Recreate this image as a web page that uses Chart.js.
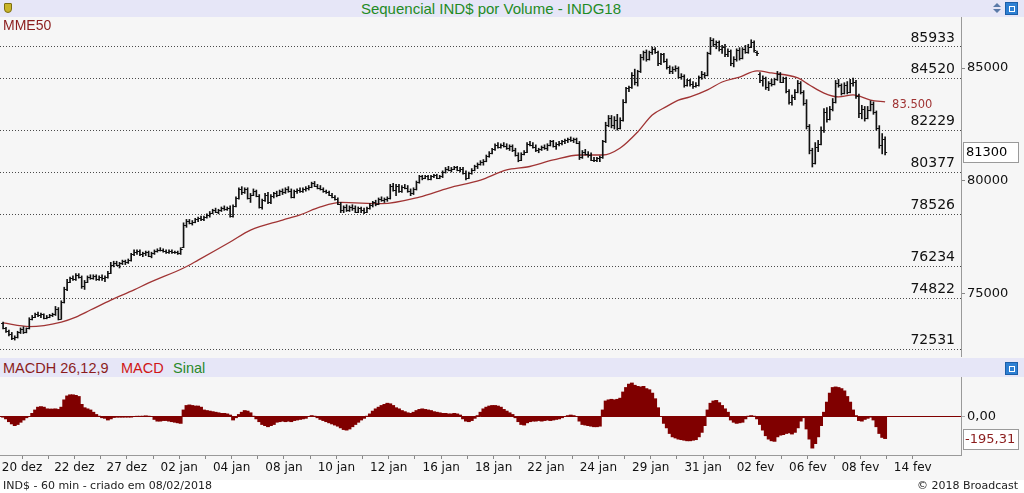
<!DOCTYPE html>
<html>
<head>
<meta charset="utf-8">
<script src="https://cdn.jsdelivr.net/npm/chart.js@4.4.1/dist/chart.umd.min.js"></script>
<style>
  body { margin:0; width:1024px; height:493px; overflow:hidden; background:#fff; position:relative; font-family:"Liberation Sans", Arial, sans-serif; }
  .band { position:absolute; left:0; width:1024px; background:#e6e6f7; }
  .panel { position:absolute; left:0; background:#f6f6f6; }
  #title { position:absolute; top:0; left:0; width:982px; text-align:center; font-size:15px; line-height:17px; color:#1f8b24; }
  .lbl { position:absolute; white-space:nowrap; }
  .foot { position:absolute; top:479px; font-family:"DejaVu Sans", sans-serif; font-size:11px; line-height:14px; color:#222; }
  .ico { position:absolute; width:11px; height:11px; background:#2d7fd3; border:1px solid #1b5ea8; }
  .ico::after { content:""; position:absolute; left:3px; top:3px; width:4px; height:4px; border:1px solid #fff; }
</style>
</head>
<body>
<div class="band" style="top:0;height:17px"></div>
<div id="title">Sequencial IND$ por Volume - INDG18</div>
<div style="position:absolute;left:4px;top:3px;width:6px;height:8px;background:#c9b52a;border:1px solid #7d6f12;border-radius:1px 1px 4px 4px"></div>
<div style="position:absolute;left:993px;top:3px;width:0;height:0;border-left:4px solid transparent;border-right:4px solid transparent;border-bottom:4px solid #5a7aa8"></div>
<div style="position:absolute;left:993px;top:9px;width:0;height:0;border-left:4px solid transparent;border-right:4px solid transparent;border-top:4px solid #5a7aa8"></div>
<div class="ico" style="left:1005px;top:2px"></div>

<div class="panel" style="top:17px;width:1024px;height:341px"></div>
<canvas id="price" width="1024" height="340" style="position:absolute;left:0;top:17px"></canvas>
<div class="lbl" style="left:3px;top:17px;font-size:14px;color:#8b1c1c">MME50</div>

<div class="band" style="top:358px;height:19px"></div>
<div class="lbl" style="left:3px;top:359px;font-size:14.5px;line-height:18px;color:#8b1c1c">MACDH 26,12,9</div>
<div class="lbl" style="left:121px;top:359px;font-size:14.5px;line-height:18px;color:#d01515">MACD</div>
<div class="lbl" style="left:173px;top:359px;font-size:14.5px;line-height:18px;color:#2a8a2a">Sinal</div>
<div class="ico" style="left:1005px;top:362px"></div>

<div class="panel" style="top:377px;width:1024px;height:103px"></div>
<canvas id="macd" width="1024" height="103" style="position:absolute;left:0;top:377px"></canvas>

<div class="foot" style="left:3px">IND$ - 60 min - criado em 08/02/2018</div>
<div class="foot" style="right:6px">© 2018 Broadcast</div>

<script>
// 60 min bars: last 7 bars of 19 dez, then 9 bars per trading day
const opens = [
  73700,73500,73350,73250,73050,73100,73300,
  73450,73300,73480,73900,74000,74100,74050,74100,73950,
  74000,74050,74100,74350,73900,74650,75200,75550,75700,
  75650,75850,75750,75350,75550,75750,75700,75800,75650,
  75750,75700,75750,75950,76300,76350,76300,76350,76450,
  76400,76500,76750,76850,76900,76750,76800,76850,76700,
  76800,76900,76950,76950,76900,76850,76900,76850,76850,
  76800,77100,78050,78250,78150,78200,78300,78350,78300,
  78400,78500,78600,78700,78650,78700,78800,78750,78800,
  78450,78900,79250,79650,79500,79650,79250,79400,79550,
  79350,78850,79150,79400,79050,79350,79450,79400,79550,
  79500,79650,79550,79300,79550,79600,79550,79650,79700,
  79750,79900,79800,79700,79650,79550,79500,79400,79300,
  79200,79000,78700,78850,78700,78850,78800,78650,78800,
  78700,78650,78800,78950,79050,79000,79200,79150,79200,
  79250,79800,79600,79800,79550,79750,79700,79550,79450,
  79650,79950,80200,80150,80200,80100,80200,80250,80150,
  80200,80400,80550,80500,80550,80600,80500,80550,80350,
  80150,80350,80500,80650,80750,80850,80900,81100,81250,
  81400,81600,81500,81600,81550,81450,81550,81350,81150,
  80950,81200,81300,81650,81600,81500,81350,81400,81500,
  81450,81600,81750,81550,81650,81700,81750,81800,81850,
  81800,81850,81700,81050,81300,81200,81150,80950,80950,
  81000,81050,81750,82500,82800,82500,82700,82350,82700,
  83500,84100,84150,84700,84400,84850,85500,85700,85400,
  85700,85850,85700,85200,85600,85300,85050,84850,84950,
  85000,84600,84650,84250,84450,84300,84200,84250,84600,
  84750,84700,85650,86250,86050,86150,85850,85950,85600,
  85750,85200,85400,85800,85450,85850,85700,85950,86150,
  85700,84750,84450,84550,84150,84350,84300,84500,84750,
  84400,84550,84000,83500,83700,83950,84350,83950,83450,
  82450,81350,80800,81500,81650,82250,83050,82750,83200,
  83500,84350,84250,83900,84250,83950,84350,84400,83750,
  83000,83200,82800,83150,83400,83050,82350,81600,81850
];
const highs = [
  73760,73520,73400,73300,73150,73350,73500,
  73550,73500,73950,74050,74150,74200,74150,74120,74050,
  74100,74150,74450,74400,74700,75300,75650,75750,75800,
  75900,75900,75800,75600,75800,75850,75850,75850,75800,
  75850,75800,76000,76400,76450,76450,76400,76500,76500,
  76550,76800,76950,76950,76950,76850,76900,76900,76850,
  76950,77000,77050,77000,76950,76950,76950,76900,76900,
  77050,78150,78300,78300,78250,78350,78400,78450,78450,
  78550,78650,78750,78800,78750,78850,78900,78850,78900,
  78950,79300,79700,79750,79700,79700,79450,79650,79600,
  79400,79200,79450,79500,79400,79500,79550,79600,79650,
  79700,79750,79650,79600,79650,79700,79700,79750,79800,
  79950,79980,79850,79800,79700,79600,79550,79450,79350,
  79250,79050,78900,78950,78900,78950,78900,78850,78850,
  78800,78850,79000,79100,79150,79250,79300,79250,79300,
  79850,79900,79850,79850,79800,79850,79800,79650,79700,
  80000,80250,80250,80250,80250,80250,80300,80300,80250,
  80450,80600,80650,80600,80650,80650,80600,80600,80450,
  80400,80550,80700,80800,80900,80950,81150,81300,81450,
  81650,81700,81650,81700,81650,81600,81600,81450,81250,
  81250,81350,81700,81750,81700,81600,81450,81550,81600,
  81650,81800,81800,81700,81750,81800,81850,81900,81950,
  81900,81900,81750,81350,81400,81300,81250,81050,81050,
  81100,81800,82600,82900,82900,82850,82950,82800,83600,
  84150,84200,84800,84950,84900,85600,85750,85800,85750,
  85930,85900,85750,85650,85650,85400,85100,85050,85100,
  85050,84750,84700,84500,84500,84400,84350,84650,84850,
  84800,85700,86350,86300,86200,86200,86000,86050,85850,
  85800,85500,85850,85900,85900,86000,86050,86250,86200,
  85750,84800,84650,84600,84400,84500,84550,84850,84800,
  84600,84600,84050,83800,84050,84450,84400,84000,83600,
  82500,81450,81700,81800,82400,83200,83250,83300,83650,
  84450,84500,84300,84350,84400,84500,84550,84450,83850,
  83350,83300,83300,83550,83500,83100,82450,82100,81950
];
const lows = [
  73450,73300,73150,72980,72960,73050,73250,
  73250,73280,73450,73850,73950,74000,73950,73900,73900,
  73950,74000,74050,73850,73880,74600,75150,75500,75600,
  75600,75700,75250,75200,75500,75650,75650,75600,75600,
  75600,75550,75700,75900,76200,76250,76150,76300,76300,
  76350,76450,76700,76750,76700,76650,76700,76650,76600,
  76750,76850,76900,76850,76800,76800,76800,76800,76750,
  76750,77050,77950,78100,78050,78150,78200,78250,78250,
  78350,78400,78550,78600,78550,78650,78700,78700,78400,
  78400,78850,79200,79400,79450,79200,79050,79350,79300,
  78800,78750,79100,79000,79000,79250,79300,79350,79400,
  79450,79500,79250,79250,79450,79500,79500,79550,79600,
  79700,79750,79650,79600,79500,79450,79350,79250,79150,
  78950,78600,78600,78650,78650,78700,78600,78600,78600,
  78550,78600,78750,78850,78900,78950,79100,79050,79100,
  79200,79550,79350,79500,79500,79650,79500,79350,79400,
  79600,79900,80050,80100,80050,80050,80150,80100,80100,
  80150,80350,80450,80400,80500,80450,80400,80300,80050,
  80100,80300,80450,80550,80700,80700,80850,81050,81200,
  81350,81450,81450,81500,81400,81350,81300,81100,80850,
  80900,81150,81250,81550,81450,81300,81250,81350,81400,
  81350,81550,81500,81400,81550,81600,81650,81700,81750,
  81700,81650,80950,81000,81150,81050,80900,80850,80850,
  80850,81000,81700,82400,82350,82300,82250,82300,82650,
  83450,83950,84100,84250,84200,84800,85350,85300,85350,
  85600,85650,85100,85150,85250,84950,84750,84750,84850,
  84550,84500,84150,84200,84200,84100,84150,84200,84500,
  84550,84650,85600,85950,85850,85750,85650,85500,85500,
  85100,85050,85300,85350,85400,85650,85650,85900,85700,
  85550,84350,84200,84050,84000,84200,84250,84450,84350,
  84350,83900,83400,83350,83600,83900,83850,83350,82300,
  81200,80620,80750,81300,81600,82150,82600,82700,83100,
  83450,84150,83800,83850,83850,83900,84200,83650,82800,
  82750,82650,82750,83100,82950,82250,81450,81200,81150
];
const closes = [
  73500,73350,73250,73050,73100,73300,73450,
  73300,73480,73900,74000,74100,74050,74100,73950,74000,
  74050,74100,74350,73900,74650,75200,75550,75700,75650,
  75850,75750,75350,75550,75750,75700,75800,75650,75750,
  75700,75750,75950,76300,76350,76300,76350,76450,76400,
  76500,76750,76850,76900,76750,76800,76850,76700,76800,
  76900,76950,76950,76900,76850,76900,76850,76850,76800,
  77000,78050,78250,78150,78200,78300,78350,78300,78400,
  78500,78600,78700,78650,78700,78800,78750,78800,78450,
  78900,79250,79650,79500,79650,79250,79400,79550,79350,
  78850,79150,79400,79050,79350,79450,79400,79550,79500,
  79650,79550,79300,79550,79600,79550,79650,79700,79750,
  79900,79800,79700,79650,79550,79500,79400,79300,79200,
  79000,78700,78850,78700,78850,78800,78650,78800,78700,
  78650,78800,78950,79050,79000,79200,79150,79200,79250,
  79800,79600,79800,79550,79750,79700,79550,79450,79650,
  79950,80200,80150,80200,80100,80200,80250,80150,80200,
  80400,80550,80500,80550,80600,80500,80550,80350,80150,
  80350,80500,80650,80750,80850,80900,81100,81250,81400,
  81600,81500,81600,81550,81450,81550,81350,81150,80950,
  81200,81300,81650,81600,81500,81350,81400,81500,81450,
  81600,81750,81550,81650,81700,81750,81800,81850,81800,
  81850,81700,81050,81300,81200,81150,80950,80950,81000,
  81050,81750,82500,82800,82500,82700,82350,82700,83500,
  84100,84150,84700,84400,84850,85500,85700,85400,85700,
  85850,85700,85200,85600,85300,85050,84850,84950,85000,
  84600,84650,84250,84450,84300,84200,84250,84600,84750,
  84700,85650,86250,86050,86150,85850,85950,85600,85750,
  85200,85400,85800,85450,85850,85700,85950,86150,85800,
  85650,84450,84550,84150,84350,84300,84500,84750,84400,
  84550,84000,83500,83700,83950,84350,83950,83450,82450,
  81350,80800,81500,81650,82250,83050,82750,83200,83500,
  84350,84250,83900,84250,83950,84350,84400,83750,83000,
  83200,82800,83150,83400,83050,82350,81600,81850,81300
];

// MME50 read at these bar positions
const mmeIdx = [0, 9, 20, 25, 30, 37, 45, 50, 62, 67, 78, 85, 96, 102, 109, 116, 130, 143, 153, 164, 173, 180,
  189, 198, 206, 212, 218, 223, 228, 232, 236, 242, 247, 253, 259, 264, 273, 277, 282, 287, 292, 298, 303];
const mmeVal = [73720, 73560, 73760, 73980, 74290, 74730, 75180, 75490, 76150, 76500, 77300, 77830, 78270, 78500,
  78850, 79050, 79000, 79290, 79690, 80040, 80490, 80620, 80930, 81150, 81150, 81460, 82170, 82920, 83300, 83580,
  83720, 84030, 84380, 84600, 84870, 84780, 84560, 84250, 83890, 83720, 83810, 83580, 83500];

// MACD histogram, one value per bar
const macdh = [
  -5,-20,-45,-65,-80,-70,-50,-30,-10,0,
  30,60,85,90,85,70,68,68,70,65,
  85,150,185,195,195,190,180,110,80,70,
  60,40,20,5,-10,-15,-30,-20,-8,-5,
  -5,-5,-3,-3,-3,0,3,3,5,8,
  5,0,-25,-40,-40,-35,-35,-40,-45,-50,
  -55,-60,60,100,105,100,95,95,85,60,
  55,50,45,40,35,30,30,25,15,-30,
  -10,20,40,55,50,35,5,-20,-45,-70,
  -80,-90,-80,-70,-50,-45,-40,-45,-40,-45,
  -35,-30,-25,-20,-15,0,10,5,-10,-25,
  -35,-45,-55,-65,-75,-85,-100,-115,-120,-110,
  -90,-70,-50,-30,-15,5,25,50,70,85,
  100,110,120,115,100,80,70,55,45,35,
  30,40,55,65,70,65,60,55,45,40,
  35,30,30,25,25,30,25,15,-20,-40,
  -45,-35,-15,10,40,70,85,95,100,100,
  95,85,65,50,35,20,-10,-45,-70,-75,
  -55,-45,-40,-40,-35,-40,-35,-30,-35,-30,
  -25,-20,-10,0,10,15,10,0,-40,-70,
  -75,-80,-85,-90,-90,-85,60,140,150,155,
  150,155,165,220,260,290,300,280,270,265,
  270,250,240,210,160,80,0,-60,-100,-150,
  -180,-190,-200,-205,-210,-215,-215,-210,-205,-180,
  -140,-80,60,120,140,145,125,100,70,40,
  -30,-50,-60,-55,-50,-20,5,10,5,-20,
  -70,-120,-170,-200,-215,-220,-180,-165,-160,-150,
  -145,-155,-140,-100,-40,-10,-110,-200,-280,-240,
  -180,-80,40,130,210,260,265,260,250,230,
  180,130,60,10,-35,-40,-25,-15,-5,-30,
  -90,-150,-185,-195.31
];

const levels = [85933, 84520, 82229, 80377, 78526, 76234, 74822, 72531];
const priceTicks = [75000, 80000, 85000];
const dayLabels = ['20 dez','21 dez','22 dez','26 dez','27 dez','28 dez','02 jan','03 jan','04 jan','05 jan',
  '08 jan','09 jan','10 jan','11 jan','12 jan','15 jan','16 jan','17 jan','18 jan','19 jan','22 jan','23 jan',
  '24 jan','26 jan','29 jan','30 jan','31 jan','01 fev','02 fev','05 fev','06 fev','07 fev','08 fev','09 fev','14 fev'];
const firstDayBar = 7;
const barsPerDay = 9;

const N = closes.length;
const xMin = -1.06, xMax = 329.07;
const dejavu = 'DejaVu Sans';
const fmtThousands = v => String(v).replace(/\B(?=(\d{3})+(?!\d))/g, '.');

const ohlcTicks = {
  id: 'ohlcTicks',
  afterDatasetsDraw(chart) {
    const {ctx, scales: {x, y}} = chart;
    ctx.save();
    ctx.strokeStyle = '#111';
    ctx.lineWidth = 1;
    ctx.beginPath();
    for (let i = 0; i < N; i++) {
      const px = x.getPixelForValue(i);
      const yo = Math.round(y.getPixelForValue(opens[i])) + 0.5;
      const yc = Math.round(y.getPixelForValue(closes[i])) + 0.5;
      ctx.moveTo(px - 2, yo); ctx.lineTo(px, yo);
      ctx.moveTo(px, yc); ctx.lineTo(px + 2, yc);
    }
    ctx.stroke();
    ctx.restore();
  }
};

const priceLabels = {
  id: 'priceLabels',
  afterDraw(chart) {
    const {ctx, chartArea, scales: {x, y}} = chart;
    const last = closes[N - 1];
    const py = Math.round(y.getPixelForValue(last));
    ctx.save();
    ctx.fillStyle = '#fff';
    ctx.fillRect(chartArea.right + 2, py - 10, 55, 20);
    ctx.strokeStyle = '#9a9a9a';
    ctx.strokeRect(chartArea.right + 2.5, py - 9.5, 55, 20);
    ctx.fillStyle = '#000';
    ctx.font = '13px "' + dejavu + '"';
    ctx.textBaseline = 'middle';
    ctx.textAlign = 'left';
    ctx.fillText(String(last), chartArea.right + 5, py + 1);
    const k = mmeVal.length - 1;
    ctx.fillStyle = '#a03434';
    ctx.font = '11.5px "' + dejavu + '"';
    ctx.fillText(fmtThousands(mmeVal[k]), x.getPixelForValue(mmeIdx[k]) + 7, y.getPixelForValue(mmeVal[k]) + 3);
    ctx.restore();
  }
};

const macdLabel = {
  id: 'macdLabel',
  afterDraw(chart) {
    const {ctx, chartArea, scales: {y}} = chart;
    const last = macdh[macdh.length - 1];
    const py = Math.round(y.getPixelForValue(last));
    ctx.save();
    ctx.fillStyle = '#fff';
    ctx.fillRect(chartArea.right + 2, py - 10, 55, 20);
    ctx.strokeStyle = '#9a9a9a';
    ctx.strokeRect(chartArea.right + 2.5, py - 9.5, 55, 20);
    ctx.fillStyle = '#8b1c1c';
    ctx.font = '13px "' + dejavu + '"';
    ctx.textBaseline = 'middle';
    ctx.fillText(last.toFixed(2).replace('.', ','), chartArea.right + 4, py + 1);
    ctx.restore();
  }
};

const noPad = s => { s.paddingTop = 0; s.paddingBottom = 0; s.paddingLeft = 0; s.paddingRight = 0; };

new Chart(document.getElementById('price'), {
  type: 'bar',
  data: {
    datasets: [
      {
        type: 'line', label: 'MME50', order: 2,
        data: mmeIdx.map((v, k) => ({x: v, y: mmeVal[k]})),
        borderColor: '#a03434', borderWidth: 1.3, pointRadius: 0,
        cubicInterpolationMode: 'monotone'
      },
      {
        type: 'bar', label: 'IND$', order: 1,
        data: highs.map((h, i) => ({x: i, y: [lows[i], h]})),
        backgroundColor: '#111', barThickness: 1
      }
    ]
  },
  options: {
    responsive: false, animation: false, devicePixelRatio: 1,
    layout: {padding: 0},
    plugins: {legend: {display: false}, tooltip: {enabled: false}},
    scales: {
      x: {type: 'linear', min: xMin, max: xMax, offset: false, display: false},
      lv: {
        type: 'linear', position: 'right', min: 72212, max: 87257, weight: 0,
        afterBuildTicks: s => { s.ticks = levels.map(v => ({value: v})); },
        afterFit: s => { s.width = 0; noPad(s); },
        grid: {color: '#4a4a4a', drawTicks: false},
        border: {display: false, dash: [1, 2]},
        ticks: {
          mirror: true, padding: -6, labelOffset: -9, autoSkip: false, color: '#111',
          font: {family: dejavu, size: 14}, callback: v => String(v)
        }
      },
      y: {
        type: 'linear', position: 'right', min: 72212, max: 87257, weight: 1,
        afterBuildTicks: s => { s.ticks = priceTicks.map(v => ({value: v})); },
        afterFit: s => { s.width = 63; noPad(s); },
        grid: {drawOnChartArea: false, tickLength: 4, color: '#888'},
        border: {color: '#9a9a9a'},
        ticks: {padding: 2, color: '#111', font: {family: dejavu, size: 13}, callback: v => String(v)}
      }
    }
  },
  plugins: [ohlcTicks, priceLabels]
});

new Chart(document.getElementById('macd'), {
  type: 'bar',
  data: {
    datasets: [{
      label: 'MACDH', data: macdh.map((v, i) => ({x: i, y: v})),
      backgroundColor: '#800000', barThickness: 3.2
    }]
  },
  options: {
    responsive: false, animation: false, devicePixelRatio: 1,
    layout: {padding: 0},
    plugins: {legend: {display: false}, tooltip: {enabled: false}},
    scales: {
      x: {
        type: 'linear', min: xMin, max: xMax, offset: false,
        afterBuildTicks: s => { s.ticks = dayLabels.map((d, k) => ({value: firstDayBar - 0.5 + k * barsPerDay})); },
        afterFit: s => { s.height = 25; noPad(s); },
        grid: {drawOnChartArea: false, offset: false, tickLength: 4, color: '#888'},
        border: {color: '#9a9a9a'},
        ticks: {
          autoSkip: false, maxRotation: 0, padding: 2, color: '#111',
          font: {family: dejavu, size: 12},
          callback: (v, k) => (k % 2 === 0 ? dayLabels[k] : '')
        }
      },
      y: {
        type: 'linear', position: 'right', min: -341, max: 353,
        afterBuildTicks: s => { s.ticks = [{value: 0}]; },
        afterFit: s => { s.width = 63; noPad(s); },
        grid: {color: '#800000', tickColor: '#aaa', tickLength: 4},
        border: {color: '#9a9a9a'},
        ticks: {padding: 2, color: '#111', font: {family: dejavu, size: 13}, callback: v => v.toFixed(2).replace('.', ',')}
      }
    }
  },
  plugins: [macdLabel]
});
</script>
</body>
</html>
